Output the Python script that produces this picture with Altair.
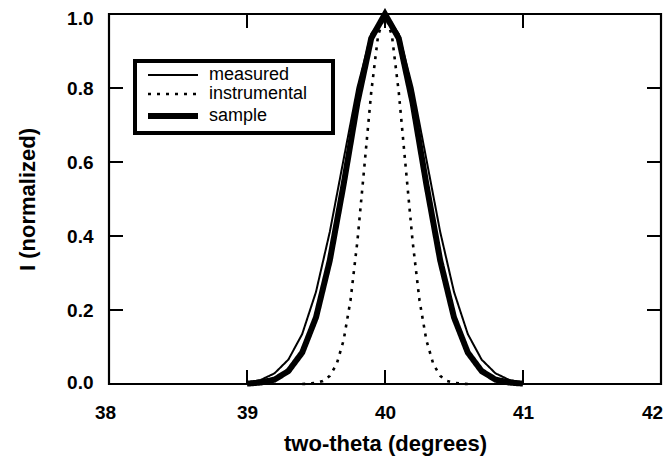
import altair as alt
import pandas as pd

# ---- data ----
series_names = ["measured", "instrumental", "sample"]

x_profile = [39.0, 39.1, 39.2, 39.3, 39.4, 39.5, 39.6, 39.7, 39.8, 39.9, 40.0,
             40.1, 40.2, 40.3, 40.4, 40.5, 40.6, 40.7, 40.8, 40.9, 41.0]
measured = [0.004, 0.011, 0.029, 0.066, 0.135, 0.249, 0.411, 0.607, 0.801, 0.946, 1.0,
            0.946, 0.801, 0.607, 0.411, 0.249, 0.135, 0.066, 0.029, 0.011, 0.004]
sample = [0.001, 0.004, 0.012, 0.035, 0.085, 0.180, 0.334, 0.539, 0.760, 0.934, 1.0,
          0.934, 0.760, 0.539, 0.334, 0.180, 0.085, 0.035, 0.012, 0.004, 0.001]

x_instr = [39.40, 39.45, 39.50, 39.55, 39.60, 39.65, 39.70, 39.75, 39.80, 39.85, 39.90, 39.95, 40.00,
           40.05, 40.10, 40.15, 40.20, 40.25, 40.30, 40.35, 40.40, 40.45, 40.50, 40.55, 40.60]
instrumental = [0.000, 0.001, 0.003, 0.008, 0.022, 0.054, 0.118, 0.226, 0.386, 0.586, 0.788, 0.942, 1.0,
                0.942, 0.788, 0.586, 0.386, 0.226, 0.118, 0.054, 0.022, 0.008, 0.003, 0.001, 0.000]

x_ticks = [38, 39, 40, 41, 42]
y_ticks = [0.0, 0.2, 0.4, 0.6, 0.8, 1.0]
x_inner_ticks = [39, 40, 41]
y_inner_ticks = [0.2, 0.4, 0.6, 0.8]

rows = []
for x, v in zip(x_profile, measured):
    rows.append({"two_theta": x, "I": v, "series": "measured"})
for x, v in zip(x_instr, instrumental):
    rows.append({"two_theta": x, "I": v, "series": "instrumental"})
for x, v in zip(x_profile, sample):
    rows.append({"two_theta": x, "I": v, "series": "sample"})
df = pd.DataFrame(rows)

W, H = 552, 370
FONT = "Liberation Sans"

xscale = alt.Scale(domain=[38, 42], nice=False, zero=False)
yscale = alt.Scale(domain=[0, 1], nice=False, zero=False)

x_axis = alt.Axis(values=x_ticks, format="d", ticks=False, domain=False, grid=False,
                  labelFontSize=19, labelFontWeight="bold", labelFont=FONT, labelColor="black",
                  labelPadding=19, labelFlush=False, labelOverlap=False,
                  labelOffset={"condition": [{"test": "datum.value == 42", "value": -9},
                                             {"test": "datum.value == 38", "value": -4}],
                               "value": 0},
                  title="two-theta (degrees)", titleFontSize=22, titleFontWeight="bold",
                  titleFont=FONT, titleColor="black", titlePadding=11)
y_axis = alt.Axis(values=y_ticks, format=".1f", ticks=False, domain=False, grid=False,
                  labelFontSize=19, labelFontWeight="bold", labelFont=FONT, labelColor="black",
                  labelPadding=16, labelFlush=False, labelOverlap=False,
                  labelOffset={"condition": [{"test": "datum.value == 1", "value": 4.5},
                                             {"test": "datum.value == 0", "value": -2}],
                               "value": 0},
                  title="I (normalized)", titleFontSize=22, titleFontWeight="bold",
                  titleFont=FONT, titleColor="black", titlePadding=27)

legend = alt.Legend(orient="none", legendX=26, legendY=47, title=None,
                    symbolType="M-5,0H5", symbolSize=100, symbolStrokeColor="black",
                    symbolOffset=24, labelFontSize=18, labelFont=FONT, labelColor="black",
                    labelOffset=27, padding=5, rowPadding=1, strokeColor="black",
                    fillColor="white",
                    labelExpr="datum.label + '\u00a0\u00a0\u00a0\u00a0\u200b'")

lines = alt.Chart(df).mark_line(color="black").encode(
    x=alt.X("two_theta:Q", scale=xscale, axis=x_axis),
    y=alt.Y("I:Q", scale=yscale, axis=y_axis),
    strokeDash=alt.StrokeDash("series:N",
                              scale=alt.Scale(type="ordinal", domain=series_names,
                                              range=[[1, 0], [3, 6], [1, 0]]),
                              legend=legend),
    strokeWidth=alt.StrokeWidth("series:N",
                                scale=alt.Scale(type="ordinal", domain=series_names,
                                                range=[2.0, 2.6, 6.0]),
                                legend=legend),
    detail="series:N",
)

xt = pd.DataFrame({"v": x_inner_ticks})
yt = pd.DataFrame({"v": y_inner_ticks})
TL = 14
tick_bottom = alt.Chart(xt).mark_rule(color="black", strokeWidth=2).encode(
    x=alt.X("v:Q", scale=xscale), y=alt.value(H), y2=alt.value(H - TL))
tick_top = alt.Chart(xt).mark_rule(color="black", strokeWidth=2).encode(
    x=alt.X("v:Q", scale=xscale), y=alt.value(0), y2=alt.value(TL))
tick_left = alt.Chart(yt).mark_rule(color="black", strokeWidth=2).encode(
    y=alt.Y("v:Q", scale=yscale), x=alt.value(0), x2=alt.value(TL))
tick_right = alt.Chart(yt).mark_rule(color="black", strokeWidth=2).encode(
    y=alt.Y("v:Q", scale=yscale), x=alt.value(W), x2=alt.value(W - TL))

chart = alt.layer(tick_bottom, tick_top, tick_left, tick_right, lines).properties(
    width=W, height=H,
    autosize=alt.AutoSizeParams(type="none"),
    padding={"left": 101, "top": 6, "right": 2, "bottom": 73},
).configure_view(stroke="black", strokeWidth=2.2).configure_legend(strokeWidth=4)

chart.save("out.html", embed_options={"renderer": "svg", "actions": False})
